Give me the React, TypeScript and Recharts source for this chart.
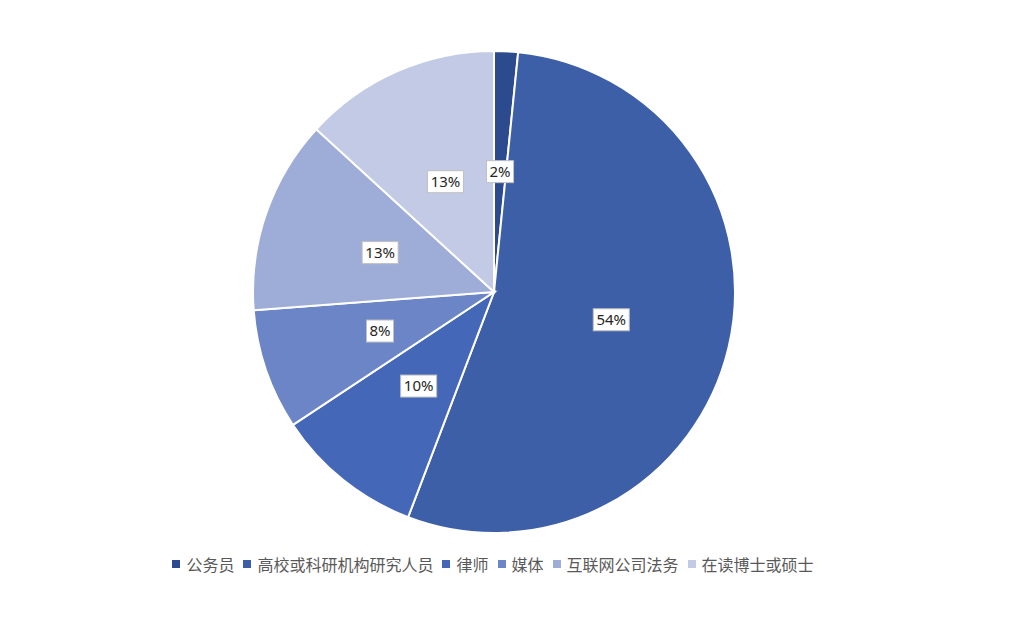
import React from "react";
import { PieChart, Pie, Cell } from "recharts";

// 职业分布（按图中扇区角度估算的占比）
const categories = ["公务员", "高校或科研机构研究人员", "律师", "媒体", "互联网公司法务", "在读博士或硕士"];
const shares = [1.6, 54.2, 9.9, 8.1, 13.0, 13.2];
const colors = ["#2c4a8e", "#3d5fa8", "#4467b8", "#6b85c6", "#9eacd8", "#c2cae6"];

const data = categories.map((name, i) => ({ name, value: shares[i] }));

const RADIAN = Math.PI / 180;
const FONT = "'Noto Sans', 'Noto Sans CJK SC', sans-serif";

function PctLabel(props: any) {
  const { cx, cy, midAngle, outerRadius, percent } = props;
  const r = outerRadius * 0.5;
  const x = cx + r * Math.cos(-midAngle * RADIAN);
  const y = cy + r * Math.sin(-midAngle * RADIAN);
  const text = `${Math.round(percent * 100)}%`;
  const w = text.length * 9 + 9;
  const h = 22;
  return (
    <g>
      <rect x={x - w / 2} y={y - h / 2} width={w} height={h} fill="#ffffff" stroke="#bfbfbf" strokeWidth={1} />
      <text x={x} y={y + 1} textAnchor="middle" dominantBaseline="middle" fontSize={15} fontFamily={FONT} fill="#262626">
        {text}
      </text>
    </g>
  );
}

// 底部图例，居中于饼图下方
function LegendBox() {
  return (
    <div
      style={{
        position: "absolute",
        top: 552,
        left: 0,
        width: 986,
        display: "flex",
        justifyContent: "center",
        alignItems: "center",
        gap: 9,
        fontFamily: FONT,
        fontSize: 16,
        color: "#595959",
      }}
    >
      {categories.map((c, i) => (
        <span key={c} style={{ display: "inline-flex", alignItems: "center" }}>
          <span style={{ width: 8, height: 8, background: colors[i], display: "inline-block", marginRight: 6 }} />
          {c}
        </span>
      ))}
    </div>
  );
}

export default function App() {
  return (
    <div style={{ position: "relative", width: 1032, height: 630, background: "#fff" }}>
      <style>{"body{margin:0}"}</style>
      <PieChart width={1032} height={630} margin={{ top: 0, right: 0, bottom: 0, left: 0 }}>
        <Pie
          data={data}
          dataKey="value"
          nameKey="name"
          cx={494}
          cy={292}
          outerRadius={241}
          startAngle={90}
          endAngle={-270}
          stroke="#ffffff"
          strokeWidth={2}
          label={PctLabel}
          labelLine={false}
          isAnimationActive={false}
        >
          {data.map((d, i) => (
            <Cell key={d.name} fill={colors[i]} />
          ))}
        </Pie>
      </PieChart>
      <LegendBox />
    </div>
  );
}
